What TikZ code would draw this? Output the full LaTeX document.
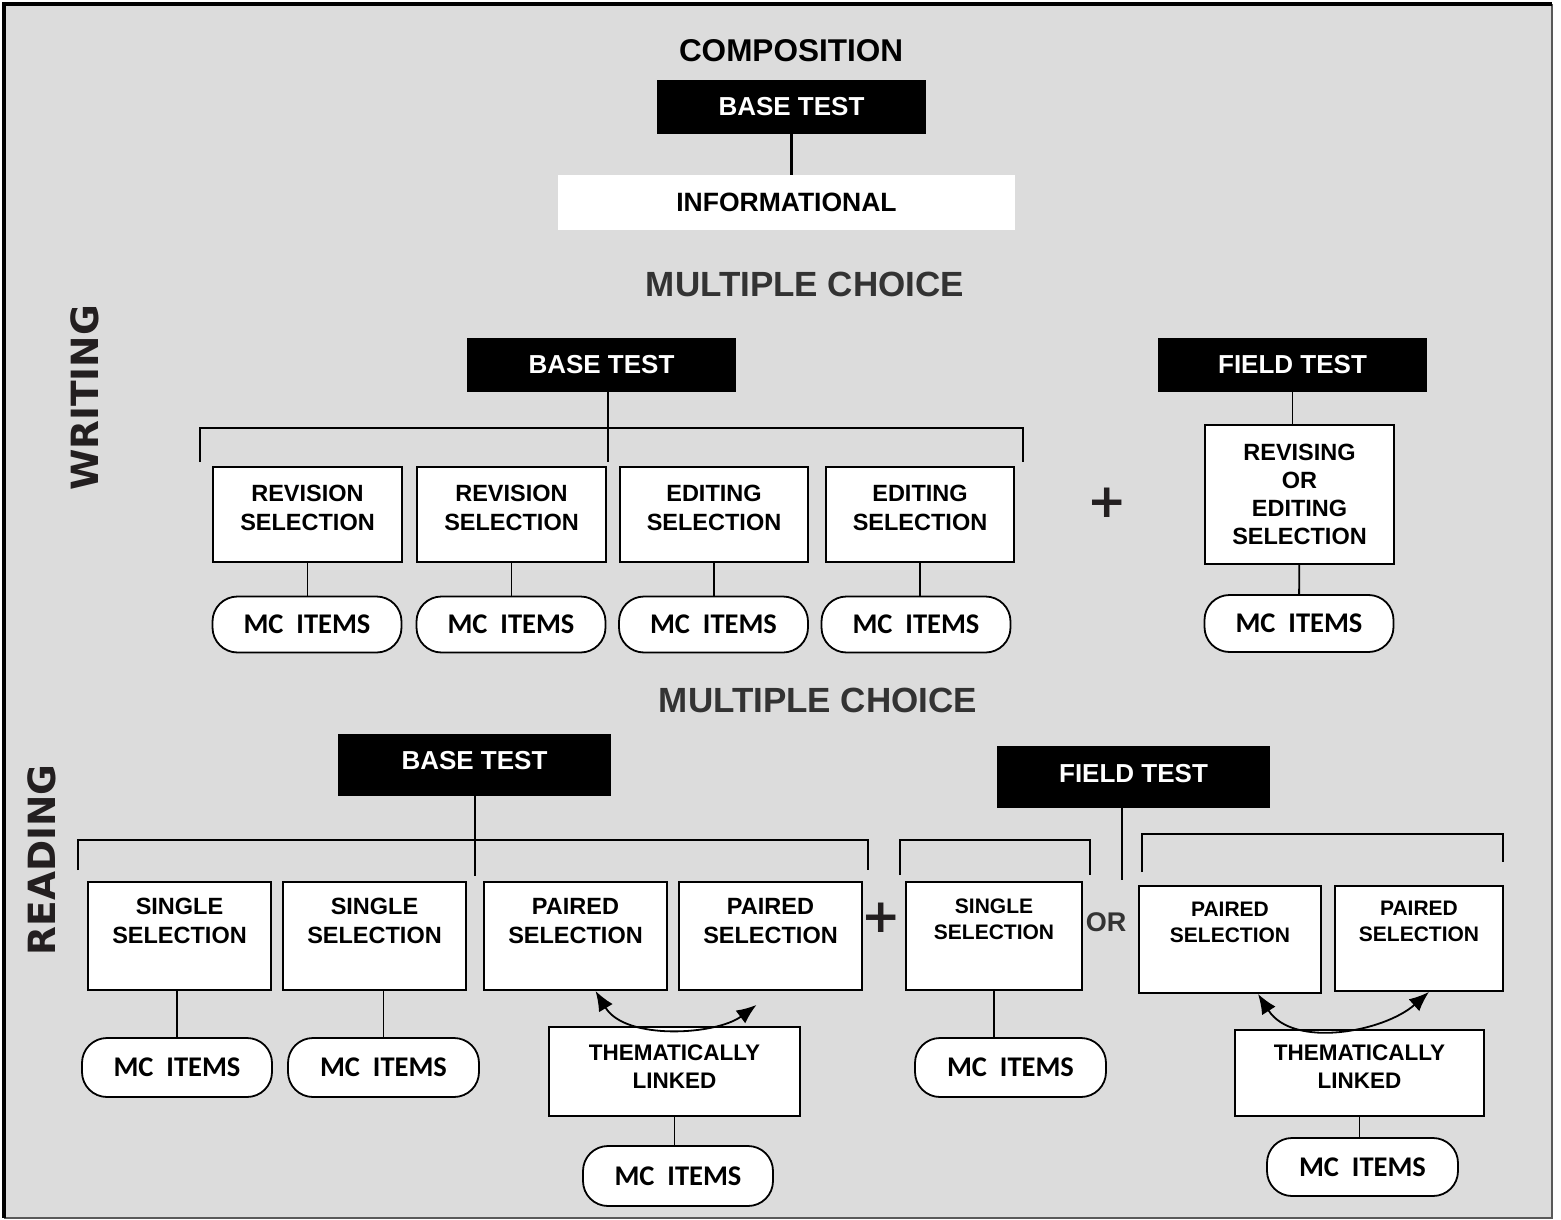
\documentclass[tikz,border=0pt]{standalone}
\usepackage{fontspec}
\setmainfont{Liberation Sans}
\newfontfamily\mcfont{Carlito}
\newfontfamily\widefont{DejaVu Sans}
\usetikzlibrary{arrows.meta}

\definecolor{panel}{RGB}{220,220,220}
\definecolor{ink}{RGB}{35,31,32}

\tikzset{
  hdr/.style={font=\bfseries\fontsize{35}{40}\selectfont, text=black!80},
  side/.style={font=\widefont\bfseries\fontsize{37.5}{44}\selectfont, text=ink, rotate=90},
  testbox/.style={fill=black, text=white, inner sep=0pt, minimum width=269pt,
    minimum height=54pt, font=\bfseries\fontsize{26}{30}\selectfont},
  selbox/.style={draw, fill=white, line width=1.8pt, inner sep=0pt, align=center,
    minimum width=189pt, minimum height=95pt, font=\bfseries\fontsize{23.5}{29}\selectfont},
  mcbox/.style={draw, fill=white, line width=1.8pt, rounded corners=25pt, inner sep=0pt,
    minimum width=189pt, minimum height=56pt, font=\mcfont\bfseries\fontsize{28.5}{32}\selectfont},
  lift/.style={execute at end node={\rule[-#1]{0pt}{#1}}},
  link/.style={line width=1.8pt},
  pair/.style={line width=1.8pt, >={Latex[length=20pt,width=16pt]}, <->},
  plus/.style={font=\widefont\bfseries\fontsize{47}{50}\selectfont, text=ink},
}

\begin{document}
\begin{tikzpicture}[x=1pt, y=-1pt]
  \useasboundingbox (0,0) rectangle (1561,1220);
  \fill[panel] (4,4) rectangle (1552,1218);
  \draw[line width=2pt, black!65] (4,1218) -- (1552,1218) -- (1552,4);
  \draw[line width=3.5pt] (1552,4) -- (4,4) -- (4,1218);

  % composition
  \node[hdr, text=black, font=\bfseries\fontsize{31.5}{36}\selectfont] (comp) at (791,51) {COMPOSITION};
  \node[testbox] (cbase) at (791.5,107) {BASE TEST};
  \node[fill=white, minimum width=457pt, minimum height=55pt,
    font=\bfseries\fontsize{26.5}{30}\selectfont] (info) at (786.5,202.5) {INFORMATIONAL};
  \draw[line width=3pt] (cbase) -- (cbase |- info.north);

  % writing, multiple choice
  \node[hdr] (wmc) at (805,284) {MULTIPLE CHOICE};
  \node[side] (wlabel) at (85,398) {WRITING};
  \node[testbox] (wbase) at (601.5,365) {BASE TEST};
  \node[testbox] (wfield) at (1292.5,365) {FIELD TEST};

  \draw[link] (200,462) -- (200,428) -- (1023,428) -- (1023,462);
  \coordinate (wdrop) at (608,462);
  \draw[link] (wbase.south -| wdrop) -- (wdrop);

  \node[selbox, lift=14pt] (rev1) at (307.5,514.5) {REVISION\\SELECTION};
  \node[selbox, lift=14pt] (rev2) at (511.5,514.5) {REVISION\\SELECTION};
  \node[selbox, minimum width=188pt, lift=14pt] (edit1) at (714,514.5) {EDITING\\SELECTION};
  \node[selbox, minimum width=188pt, lift=14pt] (edit2) at (920,514.5) {EDITING\\SELECTION};

  \node[mcbox] (wmc1) at (307,624.5) {MC\ \ ITEMS};
  \node[mcbox] (wmc2) at (511,624.5) {MC\ \ ITEMS};
  \node[mcbox] (wmc3) at (713.5,624.5) {MC\ \ ITEMS};
  \node[mcbox] (wmc4) at (916,624.5) {MC\ \ ITEMS};
  \draw[link] (rev1.south) -- (rev1.south |- wmc1.north);
  \draw[link] (rev2.south) -- (rev2.south |- wmc2.north);
  \draw[link] (edit1.south) -- (edit1.south |- wmc3.north);
  \draw[link] (edit2.south) -- (edit2.south |- wmc4.north);

  \node[plus] (wplus) at (1107,503) {+};

  \node[selbox, minimum height=139pt, font=\bfseries\fontsize{23.5}{28}\selectfont] (wfsel) at (1299.5,494.5)
    {REVISING\\OR\\EDITING\\SELECTION};
  \draw[link] (wfield) -- (wfield |- wfsel.north);
  \node[mcbox, minimum height=57pt] (wfmc) at (1299,623.5) {MC\ \ ITEMS};
  \draw[link] (wfsel) -- (wfmc);

  % reading, multiple choice
  \node[hdr] (rmc) at (818,700) {MULTIPLE CHOICE};
  \node[side] (rlabel) at (42,860) {READING};
  \node[testbox, minimum width=273pt, minimum height=62pt, lift=10pt] (rbase) at (474.5,765) {BASE TEST};
  \node[testbox, minimum width=273pt, minimum height=62pt, lift=8pt] (rfield) at (1133.5,777) {FIELD TEST};

  \draw[link] (78,870) -- (78,840) -- (868,840) -- (868,870);
  \coordinate (rdrop) at (475,876);
  \draw[link] (rbase.south -| rdrop) -- (rdrop);

  \node[selbox, minimum width=183pt, minimum height=108pt, lift=30pt] (sing1) at (179.5,936) {SINGLE\\SELECTION};
  \node[selbox, minimum width=183pt, minimum height=108pt, lift=30pt] (sing2) at (374.5,936) {SINGLE\\SELECTION};
  \node[selbox, minimum width=183pt, minimum height=108pt, lift=30pt] (pair1) at (575.5,936) {PAIRED\\SELECTION};
  \node[selbox, minimum width=183pt, minimum height=108pt, lift=30pt] (pair2) at (770.5,936) {PAIRED\\SELECTION};

  \node[mcbox, minimum width=190pt, minimum height=59pt] (rmc1) at (177,1067.5) {MC\ \ ITEMS};
  \node[mcbox, minimum width=191pt, minimum height=59pt] (rmc2) at (383.5,1067.5) {MC\ \ ITEMS};
  \draw[link] (rmc1.north) -- (rmc1.north |- sing1.south);
  \draw[link] (rmc2.north) -- (rmc2.north |- sing2.south);

  \node[selbox, minimum width=251pt, minimum height=89pt, font=\bfseries\fontsize{22.5}{28}\selectfont,
    lift=10pt] (theme1) at (674.5,1071.5) {THEMATICALLY\\LINKED};
  \node[mcbox, minimum width=190pt, minimum height=60pt] (rmc3) at (678,1176) {MC\ \ ITEMS};
  \draw[link] (theme1.south) -- (theme1.south |- rmc3.north);
  \draw[pair] ([xshift=20pt]pair1.south) .. controls +(30,50) and +(-40,30) .. ([shift={(-14,14)}]pair2.south);

  \node[plus] (rplus) at (881,918) {+};

  % reading, field test
  \draw[link] (900,875) -- (900,840) -- (1090,840) -- (1090,875);
  \coordinate (fdrop) at (1122,880);
  \draw[link] (rfield.south -| fdrop) -- (fdrop);
  \node[font=\bfseries\fontsize{27}{30}\selectfont, text=black!80] (orword) at (1106,922) {OR};

  \node[selbox, minimum width=176pt, minimum height=108pt, font=\bfseries\fontsize{21}{26}\selectfont,
    lift=34pt] (fsing) at (994,936) {SINGLE\\SELECTION};
  \node[mcbox, minimum width=191pt, minimum height=59pt] (fmc1) at (1010.5,1067.5) {MC\ \ ITEMS};
  \draw[link] (fsing.south) -- (fsing.south |- fmc1.north);

  \draw[link] (1142,872) -- (1142,834) -- (1503,834) -- (1503,862);
  \node[selbox, minimum width=182pt, minimum height=107pt, font=\bfseries\fontsize{21}{26}\selectfont,
    lift=35pt] (fpair1) at (1230,939.5) {PAIRED\\SELECTION};
  \node[selbox, minimum width=168pt, minimum height=105pt, font=\bfseries\fontsize{21}{26}\selectfont,
    lift=34pt] (fpair2) at (1419,938.5) {PAIRED\\SELECTION};

  \node[selbox, minimum width=249pt, minimum height=86pt, font=\bfseries\fontsize{22.5}{28}\selectfont,
    lift=12pt] (theme2) at (1359.5,1073) {THEMATICALLY\\LINKED};
  \node[mcbox, minimum width=191pt, minimum height=58pt] (fmc2) at (1362.5,1167) {MC\ \ ITEMS};
  \draw[link] (theme2.south) -- (theme2.south |- fmc2.north);
  \draw[pair] ([xshift=28pt]fpair1.south) .. controls +(35,55) and +(-45,40) .. ([xshift=10pt]fpair2.south);
\end{tikzpicture}
\end{document}
